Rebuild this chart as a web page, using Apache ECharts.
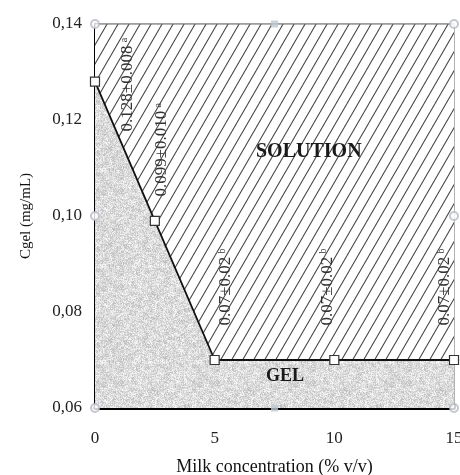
<!DOCTYPE html>
<html>
<head>
<meta charset="utf-8">
<script src="https://cdn.jsdelivr.net/npm/echarts@6/dist/echarts.min.js"></script>
<style>
  html, body { margin: 0; padding: 0; width: 100%; height: 100%; overflow: hidden; background: #fff; }
  #chart { width: 100%; height: 100%; }
</style>
</head>
<body>
<div id="chart"></div>
<script>
// phase boundary: gel concentration vs milk concentration
const milkConc = [0, 2.5, 5, 10, 15];
const cgel = [0.128, 0.099, 0.070, 0.070, 0.070];
const cgelText = ['0.128±0.008', '0.099±0.010', '0.07±0.02', '0.07±0.02', '0.07±0.02'];
const sigLetter = ['a', 'a', 'b', 'b', 'b'];

const xRange = [0, 15];
const yRange = [0.06, 0.14];

// faint leftover markers on the frame
const frameCircles = [[0, 0.14], [0, 0.10], [0, 0.06], [15, 0.14], [15, 0.10], [15, 0.06]];
const frameSquares = [[7.5, 0.14], [7.5, 0.06]];

// screen shift (px) from each point to the centre of its rotated label
const labelShift = [[33, 3], [7, -71], [11, -73], [-7, -73], [-9, -73]];

function hash(i) {
  i = (i ^ 61) ^ (i >>> 16);
  i = i + (i << 3);
  i = i ^ (i >>> 4);
  i = Math.imul(i, 0x27d4eb2d);
  i = i ^ (i >>> 15);
  return (i >>> 0) / 4294967296;
}

function hatchPattern() {
  const w = 11, h = 19;
  const c = document.createElement('canvas');
  c.width = w; c.height = h;
  const ctx = c.getContext('2d');
  ctx.fillStyle = '#fff';
  ctx.fillRect(0, 0, w, h);
  ctx.strokeStyle = '#444';
  ctx.lineWidth = 1.1;
  for (let k = -1; k <= 1; k++) {
    ctx.beginPath();
    ctx.moveTo(k * w - w, 2 * h);
    ctx.lineTo(k * w + 2 * w, -h);
    ctx.stroke();
  }
  return c;
}

function stipplePattern() {
  const n = 96;
  const c = document.createElement('canvas');
  c.width = n; c.height = n;
  const ctx = c.getContext('2d');
  const img = ctx.createImageData(n, n);
  for (let y = 0; y < n; y++) {
    for (let x = 0; x < n; x++) {
      const r = hash(y * n + x + 7);
      const r2 = hash((y >> 2) * 31 + (x >> 2) * 977 + 3);
      const v = Math.round(202 + 50 * r - 16 * r2);
      const p = (y * n + x) * 4;
      img.data[p] = v; img.data[p + 1] = v; img.data[p + 2] = v; img.data[p + 3] = 255;
    }
  }
  ctx.putImageData(img, 0, 0);
  return c;
}

const serif = '"Liberation Serif", "DejaVu Serif", serif';
const comma = v => v.toFixed(2).replace('.', ',');

const chart = echarts.init(document.getElementById('chart'));
chart.setOption({
  animation: false,
  grid: {
    left: 95, right: 6, top: 24, bottom: 67,
    outerBoundsMode: 'none',
    show: true, borderColor: '#666', borderWidth: 1, backgroundColor: 'transparent'
  },
  xAxis: {
    type: 'value',
    min: xRange[0], max: xRange[1], interval: 5,
    name: 'Milk concentration (% v/v)',
    nameLocation: 'middle', nameGap: 50,
    nameTextStyle: { fontFamily: serif, fontSize: 18, color: '#111' },
    axisLine: { show: true, lineStyle: { color: '#000', width: 4 } },
    axisTick: { show: true, inside: true, length: 4, lineStyle: { color: '#000', width: 3 } },
    axisLabel: { fontFamily: serif, fontSize: 17, color: '#222', margin: 22 },
    splitLine: { show: false }
  },
  yAxis: {
    type: 'value',
    min: yRange[0], max: yRange[1], interval: 0.02,
    name: 'Cgel (mg/mL)',
    nameLocation: 'middle', nameRotate: 90, nameGap: 61,
    nameTextStyle: { fontFamily: serif, fontSize: 15, color: '#111', padding: [0, 0, 0, 0] },
    axisLine: { show: true, lineStyle: { color: '#000', width: 3 } },
    axisTick: { show: true, inside: true, length: 4, lineStyle: { color: '#000', width: 3 } },
    axisLabel: { fontFamily: serif, fontSize: 17, color: '#222', margin: 13, formatter: comma },
    splitLine: { show: false }
  },
  // label offsets act in the rotated frame, so swap them back to screen axes
  labelLayout: function (params) {
    if (params.seriesIndex !== 1) return {};
    const s = labelShift[params.dataIndex];
    return { dx: -s[1], dy: s[0] };
  },
  graphic: [
    {
      type: 'text', left: 256, top: 142, z: 100,
      style: { text: 'SOLUTION', font: 'bold 20px ' + serif, fill: '#1a1a1a' }
    },
    {
      type: 'text', left: 266, top: 367, z: 100,
      style: { text: 'GEL', font: 'bold 18px ' + serif, fill: '#1a1a1a' }
    }
  ],
  series: [
    {
      name: 'solution',
      type: 'line',
      data: xRange.map(x => [x, yRange[1]]),
      symbol: 'none',
      lineStyle: { color: '#666', width: 1 },
      areaStyle: { color: { image: hatchPattern(), repeat: 'repeat' }, opacity: 1 },
      z: 1
    },
    {
      name: 'gel',
      type: 'line',
      data: milkConc.map((x, i) => [x, cgel[i]]),
      symbol: 'rect',
      symbolSize: 9,
      showAllSymbol: true,
      itemStyle: { color: '#fff', borderColor: '#333', borderWidth: 1.2 },
      lineStyle: { color: '#111', width: 1.8 },
      areaStyle: { color: { image: stipplePattern(), repeat: 'repeat' }, opacity: 1 },
      label: {
        show: true,
        position: 'inside',
        rotate: 90,
        formatter: p => '{v|' + cgelText[p.dataIndex] + '} {s|' + sigLetter[p.dataIndex] + '}',
        rich: {
          v: { fontFamily: serif, fontSize: 17, color: '#333', lineHeight: 17 },
          s: { fontFamily: serif, fontSize: 10, color: '#333', verticalAlign: 'top', lineHeight: 17 }
        }
      },
      z: 3
    },
    {
      name: 'frame',
      type: 'scatter',
      data: frameCircles,
      symbol: 'emptyCircle',
      symbolSize: 8,
      itemStyle: { color: '#b4bac6', borderWidth: 1.2 },
      z: 5
    },
    {
      name: 'frame2',
      type: 'scatter',
      data: frameSquares,
      symbol: 'rect',
      symbolSize: 7,
      itemStyle: { color: '#c2c7d2' },
      z: 5
    }
  ]
});
</script>
</body>
</html>
